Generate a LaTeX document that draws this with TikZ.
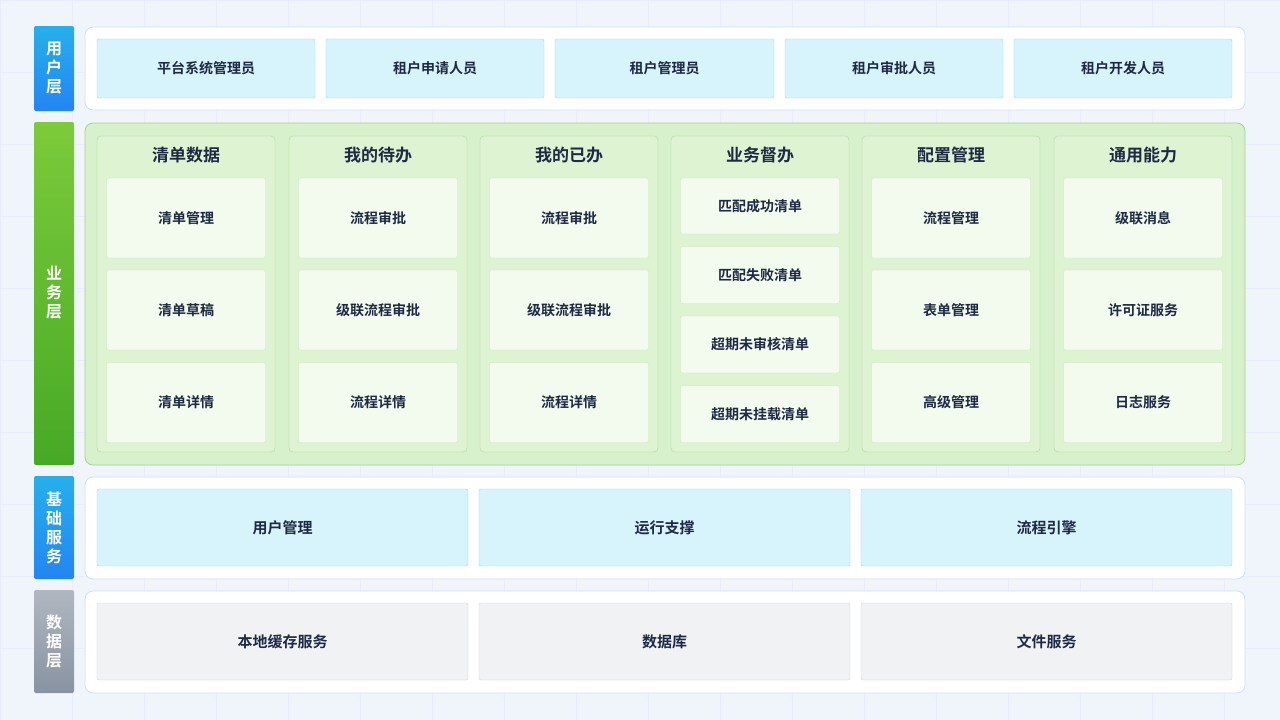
\documentclass[tikz,border=0pt]{standalone}
\usepackage{fontspec}
\setmainfont{Noto Sans CJK SC}
\newfontfamily\cjkb{Noto Sans CJK SC Bold}
\definecolor{txt}{HTML}{1E2A44}
\definecolor{bgc}{HTML}{F0F5FC}
\definecolor{ubox}{HTML}{D7F3FC}
\definecolor{ubord}{HTML}{9DD6F0}
\definecolor{gpan}{HTML}{D6F1CB}
\definecolor{gbord}{HTML}{A2D686}
\definecolor{gcol}{HTML}{DDF3D2}
\definecolor{gcolb}{HTML}{ABD993}
\definecolor{gin}{HTML}{F3FAEE}
\definecolor{dbox}{HTML}{F1F2F4}
\definecolor{dbord}{HTML}{CDD1D7}
\definecolor{pbord}{HTML}{CFDFF4}
\definecolor{gtop}{HTML}{B0B7C0}
\definecolor{gbot}{HTML}{8893A2}
\definecolor{btop}{HTML}{26B0EA}
\definecolor{bbot}{HTML}{2385F2}
\definecolor{ltop}{HTML}{7CCB3A}
\definecolor{lbot}{HTML}{46A925}
\begin{document}
\begin{tikzpicture}[x=1pt,y=-1pt,
  tag/.style={rounded corners=2pt,text=white,font=\cjkb\fontsize{16}{19}\selectfont,align=center},
  panel/.style={draw=pbord,fill=white,rounded corners=8pt,line width=0.8pt},
  ubx/.style={draw=ubord,fill=ubox,rounded corners=2pt,text=txt,font=\cjkb\fontsize{14}{16}\selectfont},
  colb/.style={draw=gcolb,fill=gcol,rounded corners=4pt},
  inb/.style={draw=gcolb!60,fill=gin,rounded corners=2pt,text=txt,font=\cjkb\fontsize{14}{16}\selectfont},
  ttl/.style={text=txt,font=\cjkb\fontsize{17}{20}\selectfont},
  dbx/.style={draw=dbord,fill=dbox,rounded corners=2pt,text=txt,font=\cjkb\fontsize{15}{18}\selectfont}]
\useasboundingbox (0,0) rectangle (1280,720);
\fill[bgc] (0,0) rectangle (1280,720);
\foreach \i in {0,72,...,1280} \draw[blue!8,line width=0.5pt] (\i,0) -- (\i,720);
\foreach \i in {0,72,...,720} \draw[blue!8,line width=0.5pt] (0,\i) -- (1280,\i);
% tags
\shade[top color=btop,bottom color=bbot,rounded corners=2pt] (34,26) rectangle (74,111);
\node[tag] (t1) at (54,68.5) {用\\户\\层};
\shade[top color=ltop,bottom color=lbot,rounded corners=2pt] (34,122) rectangle (74,465);
\node[tag] (t2) at (54,293) {业\\务\\层};
\shade[top color=btop,bottom color=bbot,rounded corners=2pt] (34,476) rectangle (74,579);
\node[tag] (t3) at (54,527.5) {基\\础\\服\\务};
\shade[top color=gtop,bottom color=gbot,rounded corners=2pt] (34,590) rectangle (74,693);
\node[tag] (t4) at (54,641.5) {数\\据\\层};
% user layer
\draw[panel] (85,27) rectangle (1245,110);
\foreach \a/\b/\t [count=\k] in {97/315/平台系统管理员,326/544/租户申请人员,555/774/租户管理员,785/1003/租户审批人员,1014/1232/租户开发人员}
  \node[ubx,minimum width=\b-\a,minimum height=59] (u\k) at ({(\a+\b)/2},68.5) {\t};
% business
\draw[draw=gbord,fill=gpan,rounded corners=8pt,line width=0.8pt] (85,123) rectangle (1245,465);
\foreach \a/\t [count=\k] in {97/清单数据,289/我的待办,480/我的已办,671/业务督办,862/配置管理,1054/通用能力}{
  \draw[colb] (\a,136) rectangle (\a+178,452);
  \node[ttl] (c\k) at (\a+89,155) {\t};}
\foreach \a/\k/\x/\y/\z in {97/1/清单管理/清单草稿/清单详情,289/2/流程审批/级联流程审批/流程详情,480/3/流程审批/级联流程审批/流程详情,862/5/流程管理/表单管理/高级管理,1054/6/级联消息/许可证服务/日志服务}{
  \node[inb,minimum width=159,minimum height=80] (b\k a) at (\a+89,218) {\x};
  \node[inb,minimum width=159,minimum height=80] (b\k b) at (\a+89,310) {\y};
  \node[inb,minimum width=159,minimum height=80] (b\k c) at (\a+89,402.5) {\z};}
\node[inb,minimum width=159,minimum height=56] (b4a) at (760,206) {匹配成功清单};
\node[inb,minimum width=159,minimum height=57] (b4b) at (760,275) {匹配失败清单};
\node[inb,minimum width=159,minimum height=57] (b4c) at (760,344.5) {超期未审核清单};
\node[inb,minimum width=159,minimum height=57] (b4d) at (760,414) {超期未挂载清单};
% basic
\draw[panel] (85,477) rectangle (1245,579);
\foreach \a/\t [count=\k] in {97/用户管理,479/运行支撑,861/流程引擎}
  \node[ubx,minimum width=371,minimum height=77,font=\cjkb\fontsize{15}{18}\selectfont] (s\k) at (\a+185.5,527.5) {\t};
% data
\draw[panel] (85,591) rectangle (1245,693);
\foreach \a/\t [count=\k] in {97/本地缓存服务,479/数据库,861/文件服务}
  \node[dbx,minimum width=371,minimum height=77] (d\k) at (\a+185.5,641.5) {\t};
\end{tikzpicture}
\end{document}
